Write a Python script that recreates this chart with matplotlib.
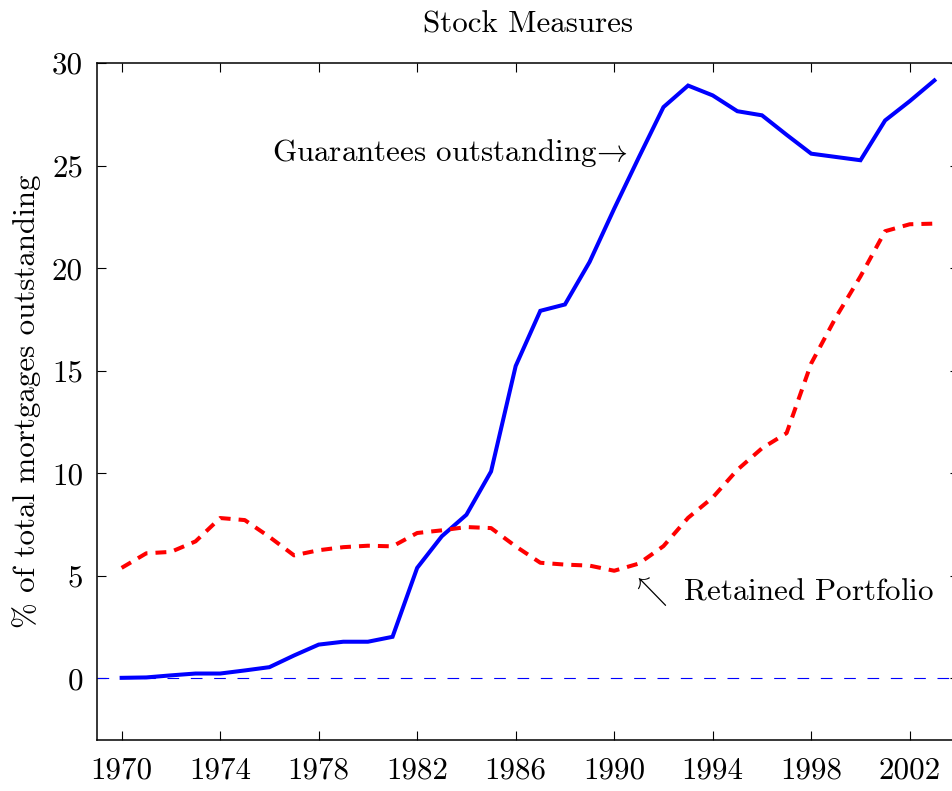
#!/usr/bin/env python

import matplotlib as mpl
mpl.use("Agg")
import matplotlib.pyplot as plt
import matplotlib.ticker as tick

# data (% of total mortgages outstanding)
years = list(range(1970, 2004))

guarantees = [0.03, 0.05, 0.15, 0.24, 0.24, 0.39, 0.55, 1.12, 1.65, 1.79,
              1.79, 2.03, 5.39, 6.93, 7.98, 10.09, 15.23, 17.92, 18.23, 20.3,
              22.9, 25.4, 27.85, 28.9, 28.42, 27.65, 27.45, 26.5, 25.58, 25.42,
              25.26, 27.2, 28.14, 29.15]

retained = [5.39, 6.1, 6.17, 6.68, 7.82, 7.72, 6.9, 6.0, 6.25, 6.4,
            6.47, 6.44, 7.09, 7.22, 7.38, 7.33, 6.44, 5.64, 5.55, 5.5,
            5.25, 5.6, 6.45, 7.83, 8.82, 10.17, 11.22, 11.96, 15.36, 17.6,
            19.6, 21.8, 22.14, 22.17]

xticks = [1970, 1974, 1978, 1982, 1986, 1990, 1994, 1998, 2002]
yticks = [0, 5, 10, 15, 20, 25, 30]


def main():

    fs = 22.3
    plt.rc('font', family='serif', size=fs)
    plt.rc('font', serif=['cmr10', 'DejaVu Serif'])
    plt.rc('mathtext', fontset='cm')
    plt.rc('axes', unicode_minus=False, linewidth=1.1)

    W, H = 952, 791
    fig = plt.figure(figsize=(W/100, H/100), dpi=100)
    ax = fig.add_axes([97/W, 51/H, 862/W, 677/H])

    # zero line
    ax.axhline(0, color='#0000ff', linewidth=0.8, linestyle=(0, (10.5, 10.5)))

    # series
    ax.plot(years, guarantees, color='#0000ff', linewidth=2.9,
            solid_joinstyle='miter')
    ax.plot(years, retained, color='#ff0000', linewidth=2.9,
            linestyle=(0, (2.7, 2.0)))

    ax.set_xlim(1969, 2004)
    ax.set_ylim(-3, 30)
    ax.set_xticks(xticks)
    ax.set_yticks(yticks)
    ax.xaxis.set_major_formatter(tick.FormatStrFormatter('%d'))
    ax.yaxis.set_major_formatter(tick.FormatStrFormatter('%d'))

    ax.tick_params(direction='in', length=6.5, width=0.8,
                   top=True, right=True)
    ax.tick_params(axis='x', pad=12)
    ax.tick_params(axis='y', pad=10)

    # labels
    ax.set_title('Stock Measures', fontsize=fs, pad=22)
    ax.set_ylabel('% of total mortgages outstanding')
    ax.yaxis.set_label_coords(-0.065, 0.5)

    # annotations
    ax.text(1990.56, 25.6, r'Guarantees outstanding$\!\rightarrow$',
            ha='right', va='center')
    ax.text(1990.88, 4.23, r'$\!\nwarrow$ Retained Portfolio',
            ha='left', va='center')

    fig.savefig('out.png', dpi=100)


if __name__ == '__main__':
    main()
